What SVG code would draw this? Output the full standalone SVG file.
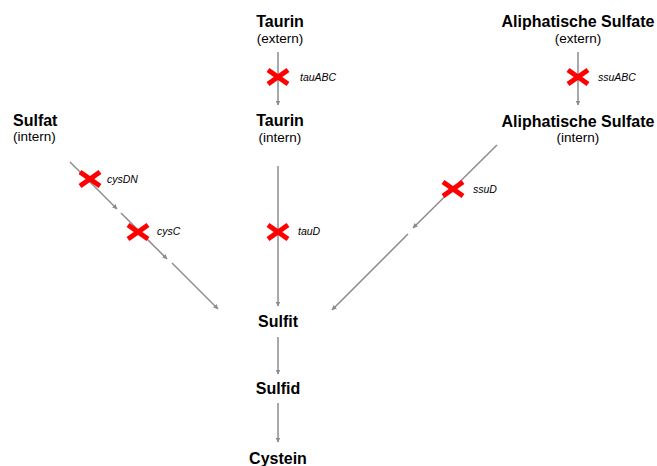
<svg xmlns="http://www.w3.org/2000/svg" width="657" height="466" viewBox="0 0 657 466">
<style>
.b{font-family:"Liberation Sans",Arial,sans-serif;font-weight:bold;font-size:16px;fill:#000}
.n{font-family:"Liberation Sans",Arial,sans-serif;font-size:13.5px;fill:#000}
.i{font-family:"Liberation Sans",Arial,sans-serif;font-style:italic;font-size:10.5px;fill:#000}
.c{text-anchor:middle}
.ar{stroke:#8c8c8c;stroke-width:1.5;fill:none;marker-end:url(#ah)}
.x{stroke:#ff0000;stroke-width:5;stroke-linecap:butt}
</style>
<defs>
<marker id="ah" viewBox="0 0 10 10" refX="9" refY="5" markerWidth="5" markerHeight="5" orient="auto" markerUnits="userSpaceOnUse">
<path d="M0,0 L10,5 L0,10 z" fill="#8c8c8c"/>
</marker>
<g id="cross"><line class="x" x1="-10" y1="-7" x2="10" y2="7"/><line class="x" x1="-10" y1="7" x2="10" y2="-7"/></g>
</defs>
<rect width="657" height="466" fill="#fff"/>
<g id="connectors">
<line class="ar" x1="278" y1="52" x2="278" y2="105"/>
<line class="ar" x1="578" y1="52" x2="578" y2="105"/>
<line class="ar" x1="278" y1="166" x2="278" y2="306"/>
<line class="ar" x1="497" y1="145" x2="413" y2="228"/>
<line class="ar" x1="408" y1="234" x2="332" y2="310"/>
<line class="ar" x1="70" y1="162" x2="117" y2="209"/>
<line class="ar" x1="121" y1="213" x2="167" y2="259"/>
<line class="ar" x1="172" y1="263" x2="218" y2="309"/>
<line class="ar" x1="278" y1="337" x2="278" y2="374"/>
<line class="ar" x1="278" y1="403" x2="278" y2="442"/>
</g>
<g id="inhibitions">
<use href="#cross" x="278" y="77"/>
<text class="i" x="300" y="81">tauABC</text>
<use href="#cross" x="578" y="77"/>
<text class="i" x="598" y="81">ssuABC</text>
<use href="#cross" x="278" y="232"/>
<text class="i" x="298" y="235">tauD</text>
<use href="#cross" x="453" y="189"/>
<text class="i" x="473" y="193">ssuD</text>
<use href="#cross" x="90" y="179"/>
<text class="i" x="107" y="183">cysDN</text>
<use href="#cross" x="138" y="232"/>
<text class="i" x="157" y="235">cysC</text>
</g>
<g id="taurin-extern"><text class="b c" x="280" y="27">Taurin</text><text class="n c" x="280" y="43">(extern)</text></g>
<g id="taurin-intern"><text class="b c" x="280" y="126">Taurin</text><text class="n c" x="280" y="142">(intern)</text></g>
<g id="aliph-extern"><text class="b c" x="578" y="27">Aliphatische Sulfate</text><text class="n c" x="578" y="43">(extern)</text></g>
<g id="aliph-intern"><text class="b c" x="578" y="127">Aliphatische Sulfate</text><text class="n c" x="578" y="142">(intern)</text></g>
<g id="sulfat"><text class="b" x="13" y="126">Sulfat</text><text class="n" x="13" y="141">(intern)</text></g>
<g id="sulfit"><text class="b c" x="278" y="327">Sulfit</text></g>
<g id="sulfid"><text class="b c" x="278" y="394">Sulfid</text></g>
<g id="cystein"><text class="b c" x="278" y="464">Cystein</text></g>
</svg>
